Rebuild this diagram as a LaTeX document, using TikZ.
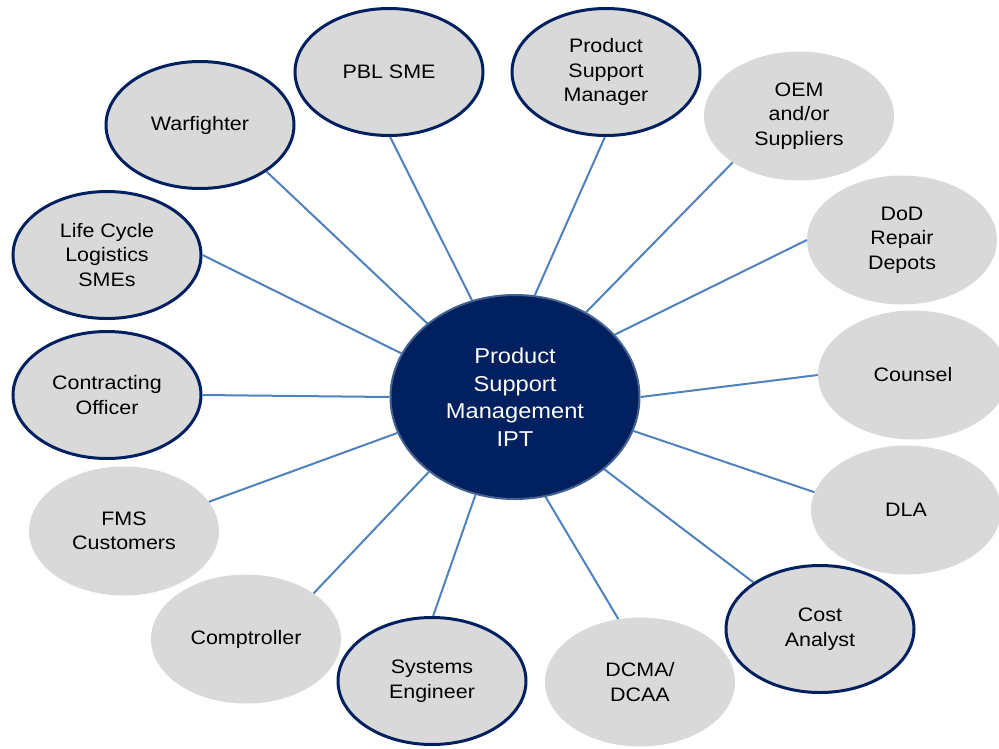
\documentclass[tikz,border=0pt]{standalone}
\usepackage{fontspec}
\setmainfont[FakeStretch=1.1]{Liberation Sans}
\usetikzlibrary{shapes.geometric}
\definecolor{navy}{HTML}{002060}
\definecolor{petal}{HTML}{D9D9D9}
\definecolor{spoke}{HTML}{4F81BD}
\definecolor{rim}{HTML}{41618F}
\tikzset{every node/.style={align=center},
  member/.style={ellipse, fill=petal, minimum width=190pt, minimum height=129pt, inner sep=0pt, font=\fontsize{19.5}{24.5}\selectfont},
  lead/.style={member, draw=navy, line width=3pt, minimum width=188pt, minimum height=127pt},
  hub/.style={ellipse, fill=navy, draw=rim, line width=2pt, minimum width=249pt, minimum height=204pt, inner sep=0pt, text=white, font=\fontsize{21.5}{27.5}\selectfont},
  link/.style={draw=spoke, line width=2pt}}

\begin{document}
\begin{tikzpicture}[x=1pt, y=-1pt]
  \useasboundingbox (0,0) rectangle (999,748);
  \node [hub] (ipt) at (515,397) {Product\\Support\\Management\\IPT};

  \node [lead] (war) at (200,125) {Warfighter};
  \node [lead] (pbl) at (389,72) {PBL SME};
  \node [lead] (psm) at (606,72) {Product\\Support\\Manager};
  \node [member] (oem) at (799,116) {OEM\\and/or\\Suppliers};
  \node [member] (dod) at (902,240) {DoD\\Repair\\Depots};
  \node [member] (cou) at (913,375) {Counsel};
  \node [member] (dla) at (906,510) {DLA};
  \node [lead] (cost) at (820,629) {Cost\\Analyst};
  \node [member] (dcma) at (640,682) {DCMA/\\DCAA};
  \node [lead] (se) at (432,681) {Systems\\Engineer};
  \node [member] (comp) at (246,639) {Comptroller};
  \node [member] (fms) at (124,531) {FMS\\Customers};
  \node [lead] (co) at (107,395) {Contracting\\Officer};
  \node [lead] (lcl) at (107,255) {Life Cycle\\Logistics\\SMEs};

  % spokes
  \path [link] (war.-35) edge (ipt.140)
    (pbl.-89) edge (ipt.114)
    (psm.-91) edge (ipt.79)
    (oem.-145) edge (ipt.50)
    (dod.180) edge (ipt.32)
    (cou.180) edge (ipt.0)
    (dla.169) edge (ipt.-16)
    (cost.145) edge (ipt.-39)
    (dcma.109) edge (ipt.-73)
    (se.89) edge (ipt.-112)
    (comp.34) edge (ipt.-139)
    (fms.19) edge (ipt.-163)
    (co.0) edge (ipt.180)
    (lcl.0) edge (ipt.159);
\end{tikzpicture}
\end{document}
